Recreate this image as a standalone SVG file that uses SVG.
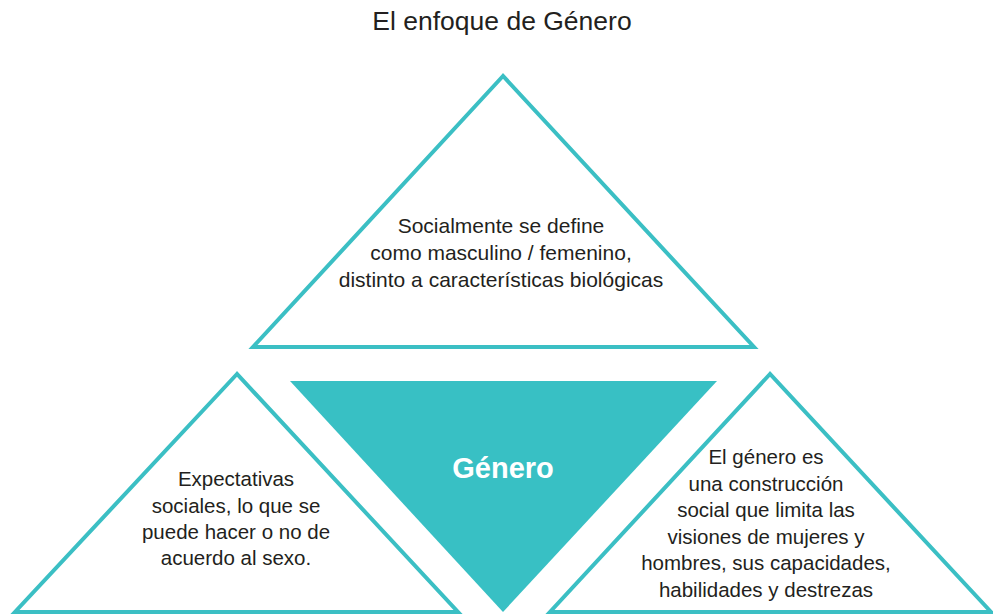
<svg xmlns="http://www.w3.org/2000/svg" width="993" height="615" viewBox="0 0 993 615">
<style>
.tri{fill:#ffffff;stroke:#3bbfc4;stroke-width:4;stroke-linejoin:miter}
.t{font-family:"Liberation Sans",Arial,sans-serif;font-size:20.5px;fill:#231f20;text-anchor:middle}
.tt{font-size:21px}
.title{font-family:"Liberation Sans",Arial,sans-serif;font-size:26.5px;fill:#231f20;text-anchor:middle}
.c{font-family:"Liberation Sans",Arial,sans-serif;font-size:29px;font-weight:bold;fill:#ffffff;text-anchor:middle}
</style>
<rect width="993" height="615" fill="#ffffff"/>
<text class="title" x="502" y="30">El enfoque de Género</text>
<g id="top">
<polygon class="tri" points="503,76 253,347 754,347"/>
<text class="t tt" x="501" y="233">Socialmente se define</text>
<text class="t tt" x="501" y="260">como masculino / femenino,</text>
<text class="t tt" x="501" y="287">distinto a características biológicas</text>
</g>
<g id="center">
<polygon points="290,381 717,381 503,612" fill="#38c0c4"/>
<text class="c" x="503" y="478">Género</text>
</g>
<g id="left">
<polygon class="tri" points="237,374 15,612 458,612"/>
<text class="t" x="236" y="486">Expectativas</text>
<text class="t" x="236" y="513">sociales, lo que se</text>
<text class="t" x="236" y="539">puede hacer o no de</text>
<text class="t" x="236" y="565">acuerdo al sexo.</text>
</g>
<g id="right">
<polygon class="tri" points="770,374 550,612 991,612"/>
<text class="t" x="766" y="464">El género es</text>
<text class="t" x="766" y="491">una construcción</text>
<text class="t" x="766" y="517">social que limita las</text>
<text class="t" x="766" y="544">visiones de mujeres y</text>
<text class="t" x="766" y="570">hombres, sus capacidades,</text>
<text class="t" x="766" y="597">habilidades y destrezas</text>
</g>
<g id="connectors"></g>
</svg>
